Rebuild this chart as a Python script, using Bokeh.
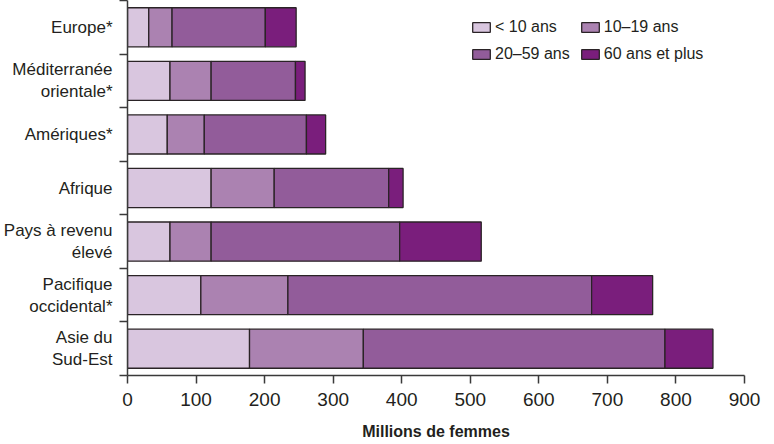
from bokeh.plotting import figure
from bokeh.models import (ColumnDataSource, FixedTicker, Range1d, Legend, LegendItem)
from bokeh.embed import file_html
from bokeh.resources import INLINE

# Data (bottom to top)
regions = ["Asie du\nSud-Est", "Pacifique\noccidental*", "Pays à revenu\nélevé", "Afrique",
           "Amériques*", "Méditerranée\norientale*", "Europe*"]
under10 = [178, 107, 62, 122, 58, 62, 31]
age10_19 = [166, 127, 60, 92, 54, 60, 34]
age20_59 = [440, 443, 275, 167, 149, 123, 136]
age60plus = [70, 89, 119, 21, 28, 14, 45]
series_names = ["< 10 ans", "10–19 ans", "20–59 ans", "60 ans et plus"]
x_ticks = [0, 100, 200, 300, 400, 500, 600, 700, 800, 900]

colors = ["#d9c6df", "#ab82b1", "#925c9a", "#7a1e7c"]
FONT = "Liberation Sans"
TEXT = "#231f20"
AX = "#3a3a3a"

ypos = [i + 0.5 for i in range(len(regions))]
keys = ["a", "b", "c", "d"]
src = ColumnDataSource(dict(y=ypos, a=under10, b=age10_19, c=age20_59, d=age60plus))

p = figure(frame_width=617, frame_height=375, output_backend="svg", toolbar_location=None,
           x_range=Range1d(0, 900), y_range=Range1d(0, len(regions)),
           min_border_left=119, min_border_right=22, min_border_top=0, min_border_bottom=57)
p.outline_line_color = None
p.grid.visible = False
p.background_fill_color = "white"

rs = p.hbar_stack(keys, y="y", height=0.73, color=colors, source=src,
                  line_color="#2a2326", line_width=1.3)

legend = Legend(items=[LegendItem(label=n, renderers=[r]) for n, r in zip(series_names, rs)],
                orientation="horizontal", ncols=2,
                location=(343, 312), padding=0, margin=0, border_line_color=None,
                background_fill_alpha=0, glyph_width=22, glyph_height=12,
                label_text_font=FONT, label_text_font_size="16px", label_text_color=TEXT,
                label_standoff=3, spacing=9, label_height=18, item_background_fill_alpha=0)
p.add_layout(legend)

# y axis
ya = p.yaxis[0]
ya.ticker = FixedTicker(ticks=ypos, minor_ticks=list(range(len(regions) + 1)))
ya.major_label_overrides = {v: r for v, r in zip(ypos, regions)}
ya.major_tick_line_color = None
ya.major_tick_out = 0
ya.major_tick_in = 0
ya.minor_tick_out = 8
ya.minor_tick_in = 0
ya.minor_tick_line_color = AX
ya.minor_tick_line_width = 1.5
ya.axis_line_color = AX
ya.axis_line_width = 1.5
ya.major_label_standoff = 7
ya.major_label_text_font = FONT
ya.major_label_text_font_size = "17px"
ya.major_label_text_color = TEXT
ya.major_label_text_line_height = 1.15

# x axis
xa = p.xaxis[0]
xa.ticker = FixedTicker(ticks=x_ticks, minor_ticks=[])
xa.major_tick_out = 8
xa.major_tick_in = 0
xa.major_tick_line_color = AX
xa.major_tick_line_width = 1.5
xa.axis_line_color = AX
xa.axis_line_width = 1.5
xa.major_label_standoff = 9
xa.major_label_text_font = FONT
xa.major_label_text_font_size = "19px"
xa.major_label_text_color = TEXT
xa.axis_label = "Millions de femmes"
xa.axis_label_text_font = FONT
xa.axis_label_text_font_style = "bold"
xa.axis_label_text_font_size = "16px"
xa.axis_label_text_color = TEXT
xa.axis_label_standoff = 14

open("out.html", "w").write(file_html(p, INLINE))
